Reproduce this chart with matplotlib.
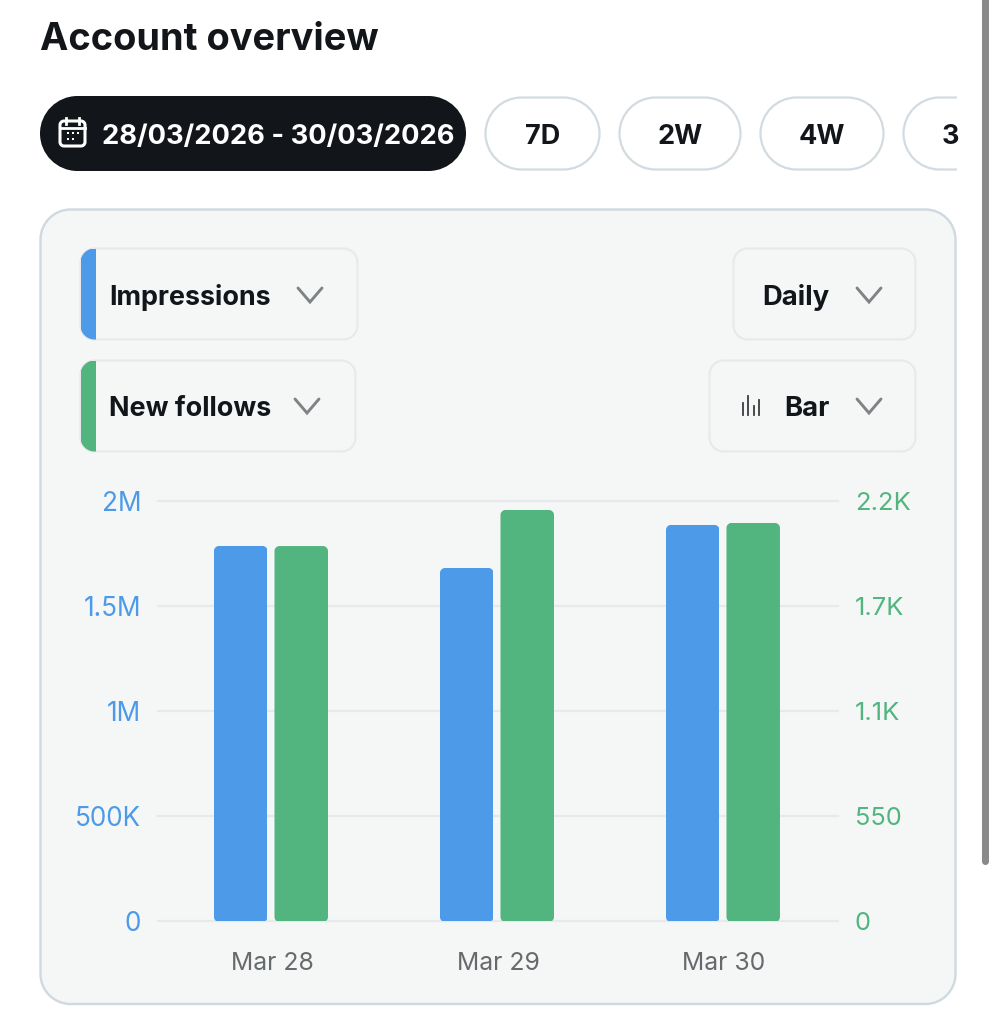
import matplotlib
matplotlib.use('Agg')
import matplotlib.pyplot as plt
from matplotlib.patches import PathPatch, Rectangle
from matplotlib.path import Path
from matplotlib.transforms import ScaledTranslation

plt.rcParams['font.family'] = ['Inter', 'DejaVu Sans']

# Chart data
days = ['Mar 28', 'Mar 29', 'Mar 30']
impressions = [1786000, 1681000, 1886000]
new_follows = [1964, 2153, 2085]
left_ticks = [0, 500000, 1000000, 1500000, 2000000]
left_labels = ['0', '500K', '1M', '1.5M', '2M']
right_ticks = [0, 550, 1100, 1650, 2200]
right_labels = ['0', '550', '1.1K', '1.7K', '2.2K']

BLUE = '#4c9ae8'
GREEN = '#52b57f'
DARK = '#12151a'
CARD = '#f5f7f7'
W, H = 996, 1024

fig = plt.figure(figsize=(W / 100, H / 100), dpi=100, facecolor='white')

# Overlay for the UI chrome, in pixel coordinates of the screenshot
ui = fig.add_axes([0, 0, 1, 1])
ui.set_xlim(0, W)
ui.set_ylim(H, 0)
ui.axis('off')


# Rounded box with properly circular corners
def round_path(x0, y0, x1, y1, r):
    k = r * 0.4477
    verts = [(x0 + r, y0), (x1 - r, y0),
             (x1 - k, y0), (x1, y0 + k), (x1, y0 + r), (x1, y1 - r),
             (x1, y1 - k), (x1 - k, y1), (x1 - r, y1), (x0 + r, y1),
             (x0 + k, y1), (x0, y1 - k), (x0, y1 - r), (x0, y0 + r),
             (x0, y0 + k), (x0 + k, y0), (x0 + r, y0), (x0 + r, y0)]
    codes = [Path.MOVETO, Path.LINETO,
             Path.CURVE4, Path.CURVE4, Path.CURVE4, Path.LINETO,
             Path.CURVE4, Path.CURVE4, Path.CURVE4, Path.LINETO,
             Path.CURVE4, Path.CURVE4, Path.CURVE4, Path.LINETO,
             Path.CURVE4, Path.CURVE4, Path.CURVE4, Path.CLOSEPOLY]
    return Path(verts, codes)


def box(x0, y0, x1, y1, r, fc, ec='none', lw=0, zorder=1, clip=None):
    p = PathPatch(round_path(x0, y0, x1, y1, r), fc=fc, ec=ec, lw=lw, zorder=zorder)
    ui.add_patch(p)
    if clip is not None:
        p.set_clip_path(clip)
    return p


def chevron(cx, cy):
    ui.plot([cx - 12, cx, cx + 12], [cy - 7, cy + 7, cy - 7], color='#808386',
            lw=2.1, solid_capstyle='round', solid_joinstyle='miter', zorder=4)


def label(x, y, s, size=19.4, color=DARK, weight='bold', ha='center'):
    ui.text(x, y, s, fontsize=size, color=color, fontweight=weight, ha=ha,
            va='center_baseline', zorder=5)


# Title
label(40, 36, 'Account overview', size=27.35, ha='left')

# Date range pills
box(40, 96, 466, 171, 37.5, DARK, zorder=2)
label(102, 134, '28/03/2026 - 30/03/2026', size=19.7, color='white', ha='left')
for x0, x1, s in [(485.5, 599.5, '7D'), (619.5, 740.5, '2W'), (760.5, 883.5, '4W')]:
    box(x0, 97.5, x1, 169.5, 36, 'white', '#d3dbe0', 1.6, zorder=2)
    label((x0 + x1) / 2, 134, s, size=19.5)
# the last pill runs off the scroller at x=957
cut = Rectangle((0, 0), 957, H, transform=ui.transData)
box(903.5, 97.5, 1010, 169.5, 36, 'white', '#d3dbe0', 1.6, zorder=2, clip=cut)
t = ui.text(942, 134, '3', fontsize=19.5, color=DARK, fontweight='bold',
            va='center_baseline', zorder=5)
t.set_clip_path(cut)

# Calendar icon
box(60, 121, 85, 146, 4, 'none', 'white', 2.2, zorder=5)
ui.plot([60, 85], [128, 128], color='white', lw=2, zorder=5)
ui.plot([66, 66], [118, 124], color='white', lw=2, zorder=5)
ui.plot([79, 79], [118, 124], color='white', lw=2, zorder=5)
for cx, cy in [(68, 133), (73, 133), (78, 133), (68, 139), (73, 139)]:
    ui.add_patch(Rectangle((cx - 1.3, cy - 1.3), 2.6, 2.6, fc='white', zorder=5))

# Card
box(40.5, 209.5, 955.5, 1004, 30, CARD, '#cfd9df', 1.7, zorder=1)

# Dropdowns
EDGE = '#e6eaec'
for x0, y0, x1, y1, color in [(80.5, 248.5, 357.5, 339.5, BLUE), (80.5, 360.5, 355.5, 451.5, GREEN)]:
    shape = box(x0, y0, x1, y1, 14, CARD, EDGE, 1.6, zorder=2)
    stripe = Rectangle((x0, y0), 15.5, y1 - y0, fc=color, zorder=3)
    ui.add_patch(stripe)
    stripe.set_clip_path(shape)
box(733.5, 248.5, 915.5, 339.5, 14, CARD, EDGE, 1.6, zorder=2)
box(709.5, 360.5, 915.5, 451.5, 14, CARD, EDGE, 1.6, zorder=2)

label(109, 294.5, 'Impressions', ha='left')
label(109, 406, 'New follows', ha='left')
label(762, 294.5, 'Daily', size=19.8, ha='left')
label(784, 406, 'Bar', size=19.8, ha='left')
chevron(310, 295)
chevron(307, 406)
chevron(869, 295)
chevron(869, 406)

# Bar glyph of the chart type dropdown
for x, y_top in [(743, 403), (748, 396), (754, 406), (759, 400)]:
    ui.plot([x, x], [y_top, 415], color='#3a3d40', lw=1.3, zorder=5)

# Scrollbar strip on the right edge
box(982, -10, 989, 865, 3.5, '#8a8a8a', zorder=1)

# Chart axes
ax = fig.add_axes([158 / W, 1 - 921 / H, 680 / W, 420 / H], facecolor='none')
ax2 = ax.twinx()
ax.set_xlim(-0.5, 2.509)
ax.set_ylim(0, 2000000)
ax2.set_ylim(0, 2200)

bar_w = 53.5 / 226
gap = 60.5 / 226
x_blue = [i - gap / 2 for i in range(len(days))]
x_green = [i + gap / 2 for i in range(len(days))]
bars_l = ax.bar(x_blue, impressions, width=bar_w, color=BLUE, zorder=3)
bars_r = ax2.bar(x_green, new_follows, width=bar_w, color=GREEN, zorder=3)

ax.set_yticks(left_ticks, left_labels)
ax2.set_yticks(right_ticks, right_labels)
ax.set_xticks(range(len(days)), days)
ax.tick_params(axis='x', length=0, pad=22, labelsize=17.8, labelcolor='#666a6d')
ax.tick_params(axis='y', length=0, pad=12, labelsize=18.8, labelcolor=BLUE)
ax2.tick_params(axis='y', length=0, pad=12, labelsize=18.4, labelcolor=GREEN)
# nudge the day labels over a pixel
for tick_label in ax.get_xticklabels():
    tick_label.set_transform(tick_label.get_transform() + ScaledTranslation(1 / 100, 0, fig.dpi_scale_trans))
ax.grid(axis='y', color='#e6eaec', lw=1.6, zorder=0)
ax.set_axisbelow(True)
for gl in ax.get_ygridlines():
    gl.set_clip_on(False)
for a in (ax, ax2):
    for s in a.spines.values():
        s.set_visible(False)

# Rounded corners: clip each bar with a rounded box of its own pixel extent
fig.canvas.draw()
for bar in list(bars_l) + list(bars_r):
    bb = bar.get_window_extent()
    clip_box = PathPatch(round_path(bb.x0, H - bb.y1, bb.x1, H - bb.y0 + 1, 5),
                         fc='none', ec='none', transform=ui.transData)
    ui.add_patch(clip_box)
    bar.set_clip_path(clip_box)

fig.savefig('out.png', dpi=100)
